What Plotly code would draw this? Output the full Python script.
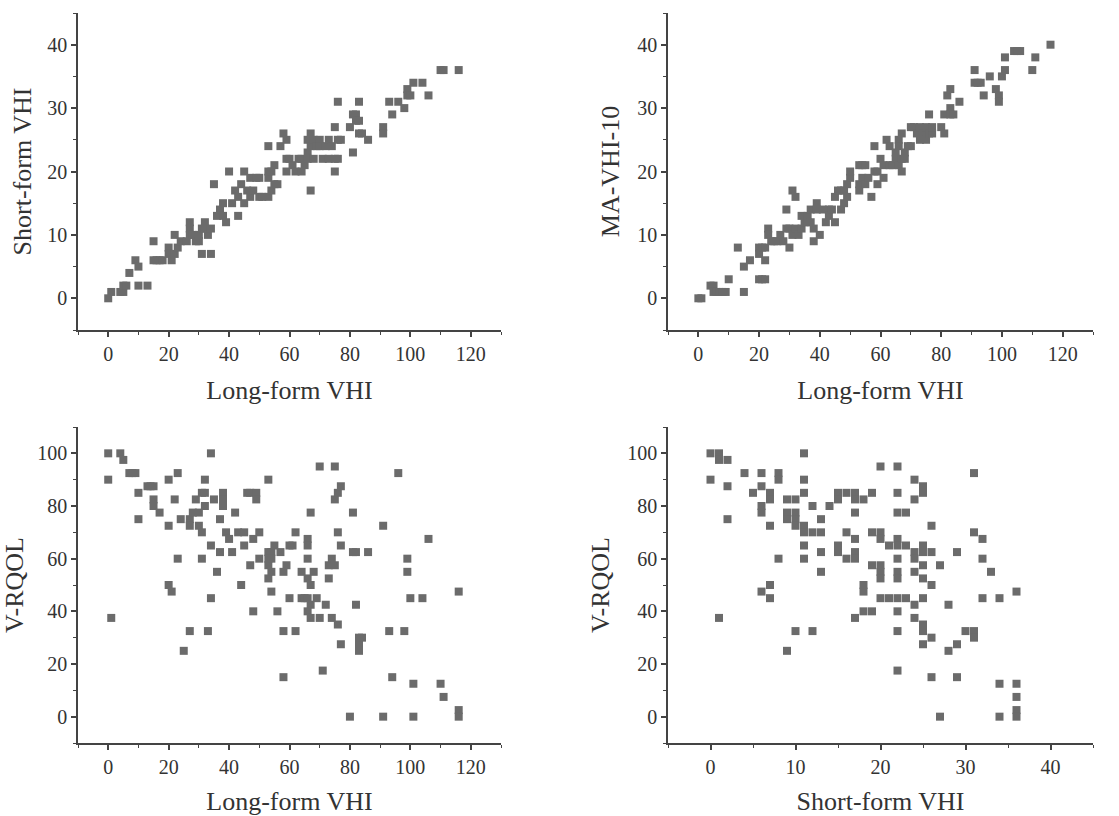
import plotly.graph_objects as go

# ---------------- data ----------------
# Panel A: Long-form VHI vs Short-form VHI
a_x = [0, 1, 4, 5, 5, 6, 7, 9, 10, 10, 13, 15, 15, 16, 17, 18,
       20, 20, 21, 22, 22, 23, 24, 26, 27, 27, 27, 28, 29, 30, 30, 31, 32, 32, 33, 34, 31, 34, 35,
       36, 37, 38, 38, 39, 40, 41, 42, 43, 43, 44, 45, 45, 46, 47, 47, 48, 49, 50, 50, 51,
       53, 53, 53, 53, 54, 54, 55, 55, 56, 57, 58, 59, 59, 59, 60, 61, 62, 63, 64, 64, 65,
       66, 66, 66, 67, 67, 67, 68, 68, 69, 70, 70, 71, 72, 73, 73, 74, 75, 75, 75, 76, 76, 76, 77,
       80, 81, 81, 82, 82, 83, 83, 83, 84, 86, 91, 91, 93, 94, 96, 98, 99, 99, 100, 101, 104, 106,
       110, 111, 116]
a_y = [0, 1, 1, 1, 2, 2, 4, 6, 5, 2, 2, 9, 6, 6, 6, 6,
       8, 7, 6, 7, 10, 8, 9, 9, 12, 11, 10, 10, 9, 10, 9, 11, 12, 11, 10, 11, 7, 7, 18,
       13, 14, 15, 13, 12, 20, 15, 17, 16, 13, 18, 20, 15, 17, 19, 16, 17, 19, 19, 16, 16,
       24, 20, 19, 16, 20, 17, 21, 18, 18, 24, 26, 25, 22, 20, 22, 21, 20, 22, 20, 22, 21,
       25, 23, 22, 26, 24, 17, 25, 22, 24, 25, 24, 22, 24, 25, 22, 24, 27, 22, 20, 31, 25, 22, 25,
       27, 29, 23, 29, 28, 31, 28, 26, 26, 25, 27, 26, 31, 29, 31, 30, 33, 32, 32, 34, 34, 32,
       36, 36, 36]

# Panel B: Long-form VHI vs MA-VHI-10
b_x = [0, 1, 4, 5, 5, 6, 7, 8, 9, 10, 13, 15, 15, 17,
       20, 20, 21, 20, 21, 22, 22, 22,
       23, 23, 24, 25, 26, 27, 28, 29, 29, 30, 30, 31, 31, 32, 32, 33, 34, 34, 35, 36, 36, 37, 37,
       38, 38, 39, 39, 40, 41, 42, 43, 43, 44, 45, 45, 46, 47, 47, 48, 48, 49, 49, 50, 50,
       53, 53, 53, 54, 54, 55, 55, 56, 57, 58, 58, 59, 59, 60, 61, 61, 62, 63, 63, 64, 65, 65,
       66, 66, 66, 67, 67, 67, 68, 68, 69, 70, 70, 71, 72, 73, 73, 74, 75, 75, 76, 76, 77, 77,
       80, 81, 81, 82, 83, 83, 83, 84, 86, 91, 91, 92, 93, 94, 96, 98, 99, 99, 100, 101, 101,
       104, 105, 106, 110, 111, 116]
b_y = [0, 0, 2, 2, 1, 1, 1, 1, 1, 3, 8, 5, 1, 6,
       8, 7, 8, 3, 3, 3, 6, 8,
       11, 10, 9, 9, 9, 10, 9, 14, 11, 11, 8, 17, 10, 16, 11, 10, 11, 13, 12, 13, 12, 14, 12,
       11, 9, 15, 14, 10, 14, 12, 14, 13, 14, 16, 12, 17, 14, 17, 15, 17, 18, 16, 19, 20,
       21, 18, 17, 19, 21, 21, 18, 19, 16, 24, 20, 18, 20, 22, 19, 21, 25, 24, 21, 21, 22, 23,
       25, 21, 24, 26, 22, 20, 23, 22, 24, 24, 27, 27, 26, 27, 25, 26, 25, 27, 29, 26, 26, 27,
       27, 26, 29, 32, 33, 30, 29, 29, 31, 36, 34, 34, 34, 32, 35, 33, 32, 31, 35, 36, 38,
       39, 39, 39, 36, 38, 40]

# Panel C: Long-form VHI vs V-RQOL
c_x = [0, 0, 1, 4, 5, 7, 8, 9, 10, 10, 13, 14, 15, 15, 15, 17, 20, 20, 20, 21, 22, 23, 23, 24,
       25, 27, 27, 27, 28, 29, 30, 30, 31, 31, 31, 32, 32, 32, 33, 34, 34, 34, 35, 36, 37, 37,
       38, 38, 38, 39, 40, 41, 42, 43, 44, 45, 45, 46, 47, 47, 48, 48, 49, 49, 50, 50,
       53, 53, 53, 53, 53, 54, 54, 54, 54, 55, 56, 57, 58, 58, 58, 59, 60, 60, 61, 62, 62,
       64, 64, 65, 66, 66, 66, 66, 66, 66, 67, 67, 67, 67, 68, 69, 70, 70, 71, 72, 73, 73,
       74, 74, 75, 75, 75, 76, 76, 76, 77, 77, 77, 80, 81, 81, 82, 82, 83, 83, 83, 84, 86,
       91, 91, 93, 94, 96, 98, 99, 99, 100, 101, 101, 104, 106, 110, 111, 116, 116, 116]
c_y = [100, 90, 37.5, 100, 97.5, 92.5, 92.5, 92.5, 85, 75, 87.5, 87.5, 87.5, 82.5, 80, 77.5,
       90, 72.5, 50, 47.5, 82.5, 92.5, 60, 75,
       25, 75, 72.5, 32.5, 77.5, 82.5, 77.5, 72.5, 85, 70, 60, 90, 85, 80, 32.5, 100, 65, 45,
       82.5, 55, 75, 62.5,
       85, 82.5, 80, 70, 67.5, 62.5, 77.5, 70, 50, 70, 65, 85, 85, 57.5, 67.5, 40, 85, 82.5, 70, 60,
       90, 62.5, 60, 57.5, 52.5, 62.5, 60, 55, 47.5, 65, 40, 62.5, 55, 32.5, 15, 57.5, 65, 45, 65,
       70, 32.5,
       55, 45, 45, 67.5, 65, 60, 52.5, 45, 40, 77.5, 50, 42.5, 37.5, 55, 45, 95, 37.5, 17.5, 42.5,
       57.5, 52.5,
       60, 37.5, 95, 82.5, 57.5, 85, 70, 35, 87.5, 65, 27.5, 0, 77.5, 62.5, 62.5, 42.5, 30, 27.5,
       25, 30, 62.5,
       72.5, 0, 32.5, 15, 92.5, 32.5, 60, 55, 45, 12.5, 0, 45, 67.5, 12.5, 7.5, 47.5, 2.5, 0]

# Panel D: Short-form VHI vs V-RQOL
d_x = [0, 0, 1, 1, 1, 2, 2, 2, 4, 5, 6, 6, 6, 6, 6, 7, 7, 7, 7, 7, 8, 8, 8,
       9, 9, 9, 9, 10, 10, 10, 10, 10, 11, 11, 11, 11, 11, 11, 11, 12, 12, 12,
       13, 13, 13, 13, 14, 15, 15, 15, 15, 16, 16, 16, 17, 17, 17, 17, 17, 17, 17,
       18, 18, 18, 18, 19, 19, 19, 19, 20, 20, 20, 20, 20, 20, 20, 21, 21,
       22, 22, 22, 22, 22, 22, 22, 22, 22, 22, 22, 22, 23, 23, 23,
       24, 24, 24, 24, 24, 24, 24, 25, 25, 25, 25, 25, 25, 25, 25, 25, 25,
       26, 26, 26, 26, 26, 27, 27, 28, 28, 29, 29, 29, 30, 31, 31, 31, 31,
       32, 32, 32, 33, 34, 34, 34, 36, 36, 36, 36, 36]
d_y = [100, 90, 100, 97.5, 37.5, 97.5, 87.5, 75, 92.5, 85, 92.5, 87.5, 80, 77.5, 47.5,
       85, 82.5, 72.5, 50, 45, 92.5, 90, 60,
       82.5, 77.5, 75, 25, 82.5, 77.5, 75, 72.5, 32.5, 100, 90, 85, 72.5, 70, 65, 60, 80, 70, 32.5,
       75, 70, 62.5, 55, 80, 85, 82.5, 65, 62.5, 85, 70, 60, 85, 82.5, 77.5, 67.5, 62.5, 60, 37.5,
       82.5, 50, 47.5, 40, 85, 70, 57.5, 40, 95, 70, 67.5, 57.5, 55, 52.5, 45, 65, 45,
       95, 85, 77.5, 67.5, 65, 60, 55, 52.5, 45, 40, 32.5, 17.5, 77.5, 65, 45,
       90, 82.5, 62.5, 60, 55, 42.5, 37.5, 87.5, 85, 65, 62.5, 57.5, 52.5, 45, 35, 32.5, 27.5,
       72.5, 62.5, 50, 30, 15, 57.5, 0, 42.5, 25, 62.5, 27.5, 15, 32.5, 92.5, 70, 32.5, 30,
       67.5, 60, 45, 55, 45, 12.5, 0, 47.5, 12.5, 7.5, 2.5, 0]

x_ticks_vhi = [0, 20, 40, 60, 80, 100, 120]
x_ticks_sf = [0, 10, 20, 30, 40]
y_ticks_top = [0, 10, 20, 30, 40]
y_ticks_rqol = [0, 20, 40, 60, 80, 100]

# ---------------- figure ----------------
W, H = 1119, 816
MARKER = dict(symbol="square", size=8, color="#6b6b6b", line=dict(width=0))
FONT = "Liberation Serif, Times New Roman, serif"
TICK_FONT = dict(family=FONT, size=20, color="#333333")
TITLE_FONT = dict(family=FONT, size=26, color="#333333")
AX_COL = "#444444"

fig = go.Figure()
panels = [
    (a_x, a_y, "x", "y"),
    (b_x, b_y, "x2", "y2"),
    (c_x, c_y, "x3", "y3"),
    (d_x, d_y, "x4", "y4"),
]
for xs, ys, xa, ya in panels:
    fig.add_trace(go.Scatter(x=xs, y=ys, mode="markers", marker=MARKER,
                             xaxis=xa, yaxis=ya, showlegend=False,
                             hoverinfo="x+y"))

def axis(domain, anchor, rng, ticks, minor_dt, title, standoff):
    return dict(domain=domain, anchor=anchor, range=rng, tickvals=ticks,
                automargin=False,
                showline=True, linecolor=AX_COL, linewidth=1.5, mirror=False,
                ticks="outside", ticklen=5, tickwidth=1.5, tickcolor=AX_COL,
                minor=dict(dtick=minor_dt, tick0=0, ticks="outside", ticklen=3,
                           tickwidth=1.2, tickcolor=AX_COL, showgrid=False),
                showgrid=False, zeroline=False, tickfont=TICK_FONT,
                title=dict(text=title, font=TITLE_FONT, standoff=standoff))

def px_x(a, b):
    return [a / W, b / W]

def px_y(top, bottom):
    return [1 - bottom / H, 1 - top / H]

dx_left = px_x(78, 501)
dx_right = px_x(668, 1093)
dy_top = px_y(13, 330)
dy_bot = px_y(427, 743)

fig.update_layout(
    width=W, height=H,
    margin=dict(l=0, r=0, t=0, b=0),
    paper_bgcolor="white", plot_bgcolor="white",
    xaxis=axis(dx_left, "y", [-10, 130], x_ticks_vhi, 10, "Long-form VHI", 17),
    yaxis=axis(dy_top, "x", [-5, 45], y_ticks_top, 5, "Short-form VHI", 8),
    xaxis2=axis(dx_right, "y2", [-10, 130], x_ticks_vhi, 10, "Long-form VHI", 17),
    yaxis2=axis(dy_top, "x2", [-5, 45], y_ticks_top, 5, "MA-VHI-10", 10),
    xaxis3=axis(dx_left, "y3", [-10, 130], x_ticks_vhi, 10, "Long-form VHI", 17),
    yaxis3=axis(dy_bot, "x3", [-10, 110], y_ticks_rqol, 10, "V-RQOL", 10),
    xaxis4=axis(dx_right, "y4", [-5, 45], x_ticks_sf, 5, "Short-form VHI", 17),
    yaxis4=axis(dy_bot, "x4", [-10, 110], y_ticks_rqol, 10, "V-RQOL", 10),
)

fig.write_html(
    "out.html",
    config={"displayModeBar": False},
    post_script="document.body.style.margin='0';document.body.style.overflow='hidden';",
)
